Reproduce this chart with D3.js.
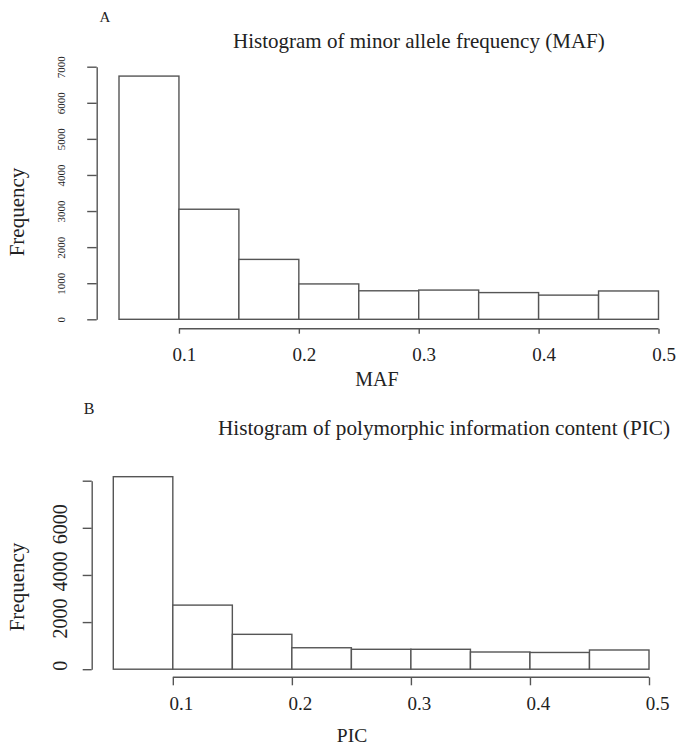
<!DOCTYPE html>
<html>
<head>
<meta charset="utf-8">
<script src="https://cdn.jsdelivr.net/npm/d3@7"></script>
<style>
  html, body { margin: 0; padding: 0; background: #fff; }
  svg { display: block; }
  text { font-family: "Liberation Serif", "Times New Roman", serif; fill: #222; }
</style>
</head>
<body>
<script>
// ---- data ----
const binBreaks = [0.05, 0.10, 0.15, 0.20, 0.25, 0.30, 0.35, 0.40, 0.45, 0.50];
const mafCounts = [6740, 3050, 1660, 980, 790, 810, 740, 670, 785];
const picCounts = [8170, 2720, 1480, 910, 845, 845, 730, 710, 815];
const xTickValues = [0.1, 0.2, 0.3, 0.4, 0.5];
const mafYTicks = [0, 1000, 2000, 3000, 4000, 5000, 6000, 7000];
const picYTicks = [0, 2000, 4000, 6000, 8000];
const picYLabeled = [0, 2000, 4000, 6000];
const mafTitle = "Histogram of minor allele frequency (MAF)";
const picTitle = "Histogram of polymorphic information content (PIC)";

const W = 683, H = 748;
const stroke = "#555";
const svg = d3.select("body").append("svg").attr("width", W).attr("height", H);

function fitText(sel, target) {
  const len = sel.node().getComputedTextLength();
  const fs = parseFloat(sel.attr("font-size"));
  sel.attr("font-size", (fs * target / len).toFixed(2));
}

function panel(o) {
  const g = svg.append("g");
  const x = d3.scaleLinear().domain([binBreaks[0], binBreaks[binBreaks.length - 1]]).range(o.xRange);
  const y = d3.scaleLinear().domain(o.yDomain).range(o.yRange);
  const bins = o.counts.map((c, i) => ({ x0: binBreaks[i], x1: binBreaks[i + 1], c }));

  // bars
  g.selectAll("rect.bar").data(bins).join("rect")
    .attr("class", "bar")
    .attr("x", d => x(d.x0))
    .attr("width", d => x(d.x1) - x(d.x0))
    .attr("y", d => y(d.c))
    .attr("height", d => y(0) - y(d.c))
    .attr("fill", "#fff")
    .attr("stroke", stroke)
    .attr("stroke-width", 1.4);

  // y axis
  const ya = g.append("g").attr("transform", `translate(${o.yAxisX},0)`)
    .call(d3.axisLeft(y).tickValues(o.yTicks).tickSize(o.yTickLen).tickSizeOuter(0)
      .tickFormat(d => o.yLabeled.includes(d) ? String(d) : ""));
  ya.select(".domain").attr("stroke", stroke).attr("stroke-width", 1.4);
  ya.selectAll(".tick line").attr("stroke", stroke).attr("stroke-width", 1.4);
  ya.selectAll(".tick text")
    .attr("x", 0).attr("dy", 0)
    .attr("text-anchor", "middle")
    .attr("transform", `translate(${-o.yLabelOff},${o.yLabelShift}) rotate(-90)`)
    .attr("font-family", "Liberation Serif, serif")
    .attr("font-size", o.yLabelSize)
    .attr("fill", o.yLabelColor);

  // x axis
  const xa = g.append("g").attr("transform", `translate(0,${o.xAxisY})`)
    .call(d3.axisBottom(x).tickValues(xTickValues).tickSize(o.xTickLen).tickSizeOuter(0)
      .tickFormat(d3.format(".1f")));
  xa.select(".domain").remove();
  xa.append("line")
    .attr("x1", x(xTickValues[0])).attr("x2", x(xTickValues[xTickValues.length - 1]))
    .attr("stroke", stroke).attr("stroke-width", 1.4);
  xa.selectAll(".tick line").attr("stroke", stroke).attr("stroke-width", 1.4);
  xa.selectAll(".tick text")
    .attr("y", o.xLabelY - o.xAxisY).attr("dy", 0)
    .attr("dx", o.xLabelDx)
    .attr("font-family", "Liberation Serif, serif")
    .attr("font-size", o.xLabelSize)
    .attr("fill", "#222");

  // axis titles
  g.append("text").attr("x", o.xTitleX).attr("y", o.xTitleY)
    .attr("text-anchor", "middle").attr("font-size", o.xTitleSize).text(o.xTitle);
  g.append("text")
    .attr("transform", `translate(${o.yTitleX},${o.yTitleY}) rotate(-90)`)
    .attr("text-anchor", "middle").attr("font-size", 21).text("Frequency");

  // title
  const t = g.append("text").attr("x", o.titleX).attr("y", o.titleY)
    .attr("font-size", 18).text(o.title);
  fitText(t, o.titleW);

  // panel letter
  g.append("text").attr("x", o.letterX).attr("y", o.letterY)
    .attr("text-anchor", "middle").attr("font-size", o.letterSize).text(o.letter);
}

panel({
  counts: mafCounts, xRange: [119, 658.5], yDomain: [0, 7000], yRange: [319.3, 66.7],
  yTicks: mafYTicks, yLabeled: mafYTicks, yAxisX: 96.7, yTickLen: 9.5,
  yLabelOff: 31.5, yLabelShift: 0, yLabelSize: 11, yLabelColor: "#555",
  xAxisY: 328.7, xTickLen: 5, xLabelY: 361, xLabelDx: 5, xLabelSize: 19,
  xTitle: "MAF", xTitleX: 377, xTitleY: 386, xTitleSize: 20,
  yTitleX: 24, yTitleY: 212,
  title: mafTitle, titleX: 233, titleY: 48, titleW: 372,
  letter: "A", letterX: 105, letterY: 22, letterSize: 15
});

panel({
  counts: picCounts, xRange: [113.3, 649], yDomain: [0, 8000], yRange: [669.2, 480.7],
  yTicks: picYTicks, yLabeled: picYLabeled, yAxisX: 91.7, yTickLen: 9,
  yLabelOff: 25, yLabelShift: -4, yLabelSize: 20, yLabelColor: "#222",
  xAxisY: 677.3, xTickLen: 8, xLabelY: 710, xLabelDx: 8, xLabelSize: 19,
  xTitle: "PIC", xTitleX: 352, xTitleY: 742, xTitleSize: 19.5,
  yTitleX: 24, yTitleY: 587,
  title: picTitle, titleX: 218, titleY: 435, titleW: 452,
  letter: "B", letterX: 89, letterY: 414, letterSize: 16
});
</script>
</body>
</html>
